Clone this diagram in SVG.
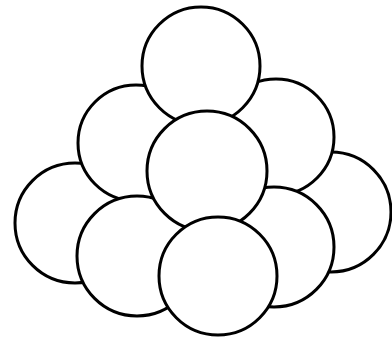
<svg xmlns="http://www.w3.org/2000/svg" width="392" height="342" viewBox="0 0 392 342">
<style>
circle{fill:#fff;stroke:#000;stroke-width:3}
</style>
<rect width="392" height="342" fill="#fff"/>
<g id="far-left"><circle cx="75" cy="223" r="60"/></g>
<g id="far-right"><circle cx="331" cy="212" r="60"/></g>
<g id="mid-left"><circle cx="136" cy="143" r="58"/></g>
<g id="mid-right"><circle cx="276" cy="137" r="58"/></g>
<g id="top"><circle cx="201" cy="66" r="59"/></g>
<g id="bottom-left"><circle cx="137" cy="256" r="60"/></g>
<g id="bottom-right"><circle cx="274" cy="247" r="60"/></g>
<g id="center"><circle cx="207" cy="171" r="60"/></g>
<g id="bottom-center"><circle cx="218" cy="276" r="59"/></g>
</svg>
